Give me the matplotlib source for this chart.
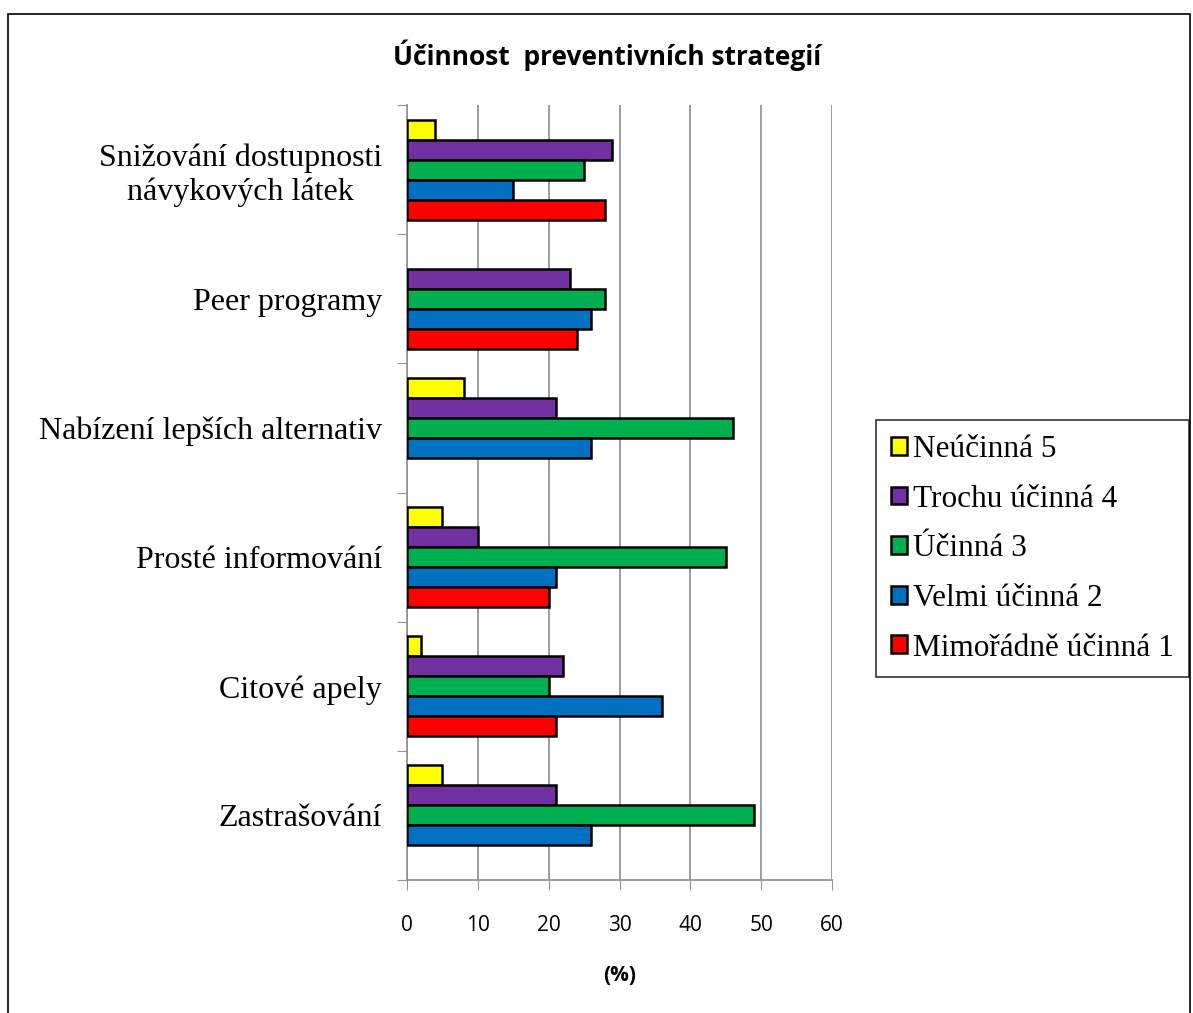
import matplotlib.pyplot as plt
import numpy as np
from matplotlib.patches import Rectangle

categories = ['Snižování dostupnosti\nnávykových látek', 'Peer programy',
              'Nabízení lepších alternativ', 'Prosté informování',
              'Citové apely', 'Zastrašování']
series = ['Neúčinná 5', 'Trochu účinná 4', 'Účinná 3', 'Velmi účinná 2', 'Mimořádně účinná 1']
colors = ['#FFFF00', '#7030A0', '#00B050', '#0070C0', '#FF0000']

neucinna = [4, 0, 8, 5, 2, 5]
trochu = [29, 23, 21, 10, 22, 21]
ucinna = [25, 28, 46, 45, 20, 49]
velmi = [15, 26, 26, 21, 36, 26]
mimoradne = [28, 24, 0, 20, 21, 0]
values = [neucinna, trochu, ucinna, velmi, mimoradne]

fig = plt.figure(figsize=(11.93, 10.13), dpi=100)
fig.patches.append(Rectangle((8/1193, -0.05), 1182/1193, 1.05 - 14/1013,
                             transform=fig.transFigure, fill=False,
                             edgecolor='black', linewidth=1.2))

ax = fig.add_axes([407/1193, 1 - 880/1013, 425/1193, 775/1013])
y = np.arange(len(categories))
h = 0.155
for i, (vals, col, name) in enumerate(zip(values, colors, series)):
    bars = ax.barh(y + (i - 2) * h, vals, height=h, color=col, edgecolor='black',
                   linewidth=1.8, label=name, zorder=3)
    for b, v in zip(bars, vals):
        if v == 0:
            b.set_linewidth(0)

ax.set_xlim(0, 60)
ax.set_ylim(len(categories) - 0.5, -0.5)
ax.set_xticks(range(0, 61, 10))
ax.xaxis.grid(True, color='#959595', linewidth=1.3, zorder=0)
ax.set_yticks(np.arange(len(categories) + 1) - 0.5, minor=False)
ax.set_yticklabels([])
ax.set_yticks(y, minor=True)
ax.set_yticklabels(categories, minor=True, family='Liberation Serif', fontsize=23)
ax.tick_params(axis='y', which='minor', length=0, pad=18)
ax.tick_params(axis='y', which='major', length=7, color='#959595')
ax.tick_params(axis='x', length=7, color='#959595', labelsize=15, pad=18)
for lab in ax.get_yticklabels(minor=True):
    lab.set_horizontalalignment('right')
    lab.set_multialignment('center')
for lab in ax.get_xticklabels():
    lab.set_family('Open Sans')
for s in ['top', 'right']:
    ax.spines[s].set_visible(False)
for s in ['left', 'bottom']:
    ax.spines[s].set_color('#959595')
    ax.spines[s].set_linewidth(1.3)

ax.set_xlabel('(%)', fontsize=15, fontweight='bold', family='Open Sans', labelpad=21)
fig.text(607/1193, 1 - 55/1013, 'Účinnost  preventivních strategií', ha='center',
         va='center', fontsize=19, fontweight='bold', family='Open Sans')

leg = fig.legend(loc='upper left', bbox_to_anchor=(876/1193, 1 - 420/1013),
                 prop={'family': 'Liberation Serif', 'size': 22.5},
                 frameon=True, fancybox=False, edgecolor='black',
                 handlelength=0.5, handleheight=0.5, handletextpad=0.2,
                 labelspacing=0.66, borderpad=0.48, borderaxespad=0)
leg.get_frame().set_linewidth(1.2)

fig.savefig('out.png', dpi=100)
